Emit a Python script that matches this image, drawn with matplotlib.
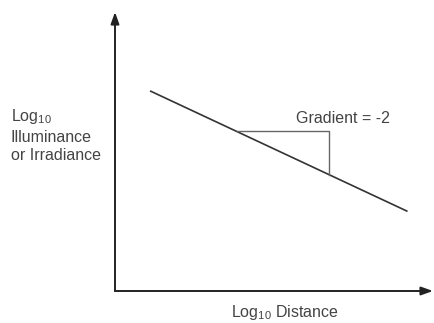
import matplotlib.pyplot as plt

plt.rcParams['font.family'] = ['Liberation Sans', 'DejaVu Sans']
plt.rcParams['mathtext.default'] = 'regular'

# inverse square law on log-log axes (arbitrary log units)
log_distance = [0.45, 3.67]
log_level = [10.74, 4.30]

# gradient triangle corners
tri_x = [1.53, 2.69, 2.69]
tri_y = [8.58, 8.58, 6.26]
gradient_text = 'Gradient = -2'

fig = plt.figure(figsize=(4.35, 3.23), dpi=100)
ax = fig.add_axes([115 / 435, 32 / 323, 318 / 435, 279 / 323])
ax.set_xlim(0, 4)
ax.set_ylim(0, 15)
for s in ax.spines.values():
    s.set_visible(False)
ax.set_xticks([])
ax.set_yticks([])

# axes drawn as arrows
arrow = dict(arrowstyle='-|>,head_length=0.7,head_width=0.25', color='#222222',
             lw=1.4, shrinkA=0, shrinkB=0)
ax.annotate('', xy=(1, 0), xytext=(0, 0), xycoords='axes fraction', arrowprops=arrow)
ax.annotate('', xy=(0, 1), xytext=(0, 0), xycoords='axes fraction', arrowprops=arrow)

ax.plot(log_distance, log_level, color='#333333', lw=1.2, clip_on=False)
ax.plot(tri_x, tri_y, color='#666666', lw=1.0)

ax.text(2.87, 9.3, gradient_text, ha='center', va='center', fontsize=11.5, color='#444444')

txt = dict(fontsize=11.5, color='#444444', ha='left', va='center')
fig.text(11 / 435, 1 - 117 / 323, 'Log$_{10}$', **txt)
fig.text(11 / 435, 1 - 137 / 323, 'Illuminance', **txt)
fig.text(11 / 435, 1 - 156 / 323, 'or Irradiance', **txt)
fig.text(285 / 435, 1 - 313 / 323, 'Log$_{10}$ Distance', fontsize=11.5, color='#444444',
         ha='center', va='center')

fig.savefig('out.png', dpi=100)
